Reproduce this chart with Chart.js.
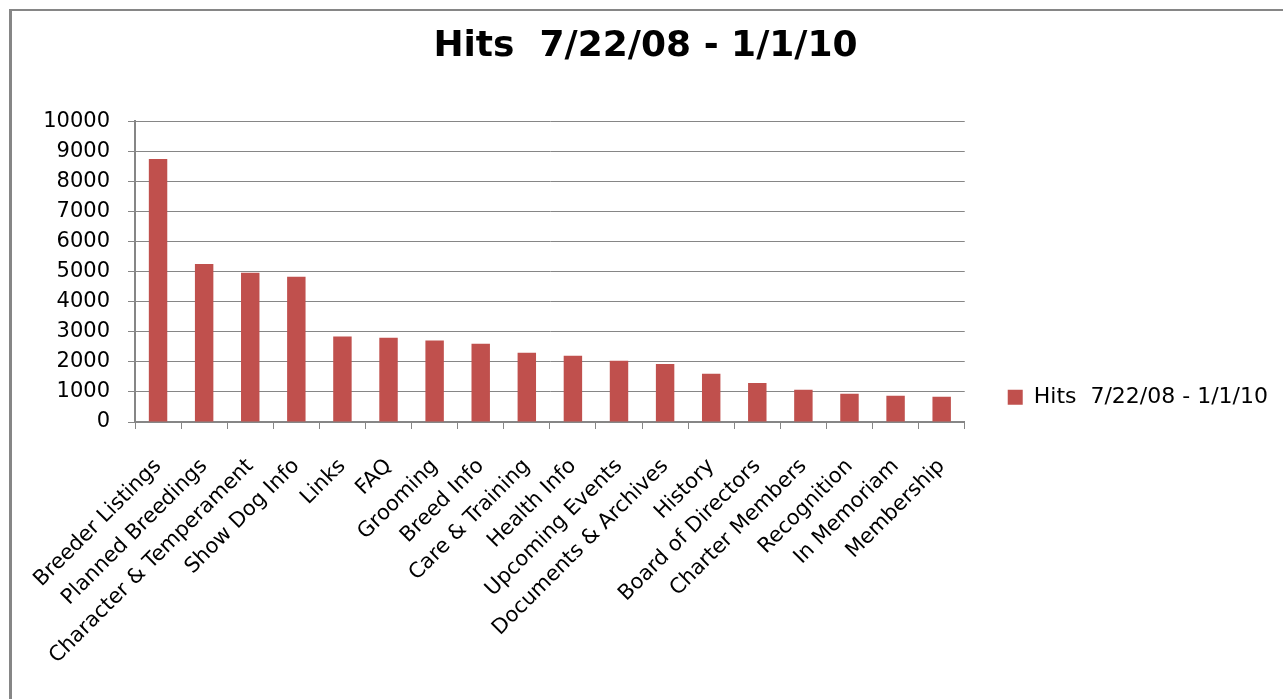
<!DOCTYPE html>
<html>
<head>
<meta charset="utf-8">
<title>Hits 7/22/08 - 1/1/10</title>
<script src="https://cdn.jsdelivr.net/npm/chart.js@4.4.1/dist/chart.umd.min.js"></script>
<style>
  html, body { margin: 0; padding: 0; background: #fff; overflow: hidden; }
  #wrap { position: relative; width: 1283px; height: 699px; }
  #frame {
    position: absolute; left: 9px; top: 9px; width: 1400px; height: 800px;
    border-left: 3px solid #868686; border-top: 2px solid #868686;
    pointer-events: none;
  }
</style>
</head>
<body>
<div id="wrap">
  <canvas id="chart"></canvas>
  <div id="frame"></div>
</div>
<script>
const categories = [
  "Breeder Listings", "Planned Breedings", "Character & Temperament", "Show Dog Info",
  "Links", "FAQ", "Grooming", "Breed Info", "Care & Training", "Health Info",
  "Upcoming Events", "Documents & Archives", "History", "Board of Directors",
  "Charter Members", "Recognition", "In Memoriam", "Membership",
];
const hits = [
  8740, 5250, 4960, 4830, 2840, 2800, 2710, 2600, 2300, 2200,
  2040, 1930, 1600, 1300, 1070, 940, 870, 840,
];
const seriesLabel = "Hits  7/22/08 - 1/1/10";
const titleText = "Hits  7/22/08 - 1/1/10";

const axisGray = "#868686";
const font = "'DejaVu Sans', sans-serif";
const padLeft = 13;

const config = {
  type: "bar",
  data: {
    labels: categories,
    datasets: [
      {
        label: seriesLabel,
        data: hits,
        backgroundColor: "#C0504D",
        borderWidth: 0,
        barPercentage: 0.4,
        categoryPercentage: 1.0,
      },
    ],
  },
  options: {
    responsive: true,
    maintainAspectRatio: false,
    animation: false,
    layout: { padding: { left: padLeft, top: 0, right: 5, bottom: 27 } },
    plugins: {
      title: {
        display: true,
        text: titleText,
        color: "#000",
        font: { family: font, size: 36, weight: "bold", lineHeight: 1.2 },
        padding: { top: 25, bottom: 53 },
      },
      legend: {
        display: true,
        position: "right",
        align: "center",
        // empty legend title only pushes the entry down, like excel centres it under the chart title
        title: {
          display: true,
          text: "",
          font: { family: font, size: 12, lineHeight: 1.2 },
          padding: { top: 0, bottom: 108 },
        },
        labels: {
          color: "#000",
          font: { family: font, size: 22 },
          boxWidth: 15,
          boxHeight: 15,
          padding: 43,
        },
      },
      tooltip: { enabled: false },
    },
    scales: {
      x: {
        grid: {
          display: true,
          drawOnChartArea: false,
          drawTicks: true,
          tickLength: 7,
          color: axisGray,
          offset: true,
        },
        border: { display: true, color: axisGray, width: 2 },
        ticks: {
          color: "#000",
          font: { family: font, size: 21 },
          autoSkip: false,
          minRotation: 45,
          maxRotation: 45,
          padding: 25,
        },
        afterFit: (scale) => {
          scale.height = 250;
        },
      },
      y: {
        min: 0,
        max: 10000,
        grid: {
          color: axisGray,
          lineWidth: 1,
          drawTicks: true,
          tickLength: 7,
        },
        border: { display: true, color: axisGray, width: 2 },
        ticks: {
          stepSize: 1000,
          color: "#000",
          font: { family: font, size: 21 },
          padding: 18,
          callback: (value) => String(value),
        },
        afterFit: (scale) => {
          scale.width = 135 - padLeft;
        },
      },
    },
  },
};

const chart = new Chart(document.getElementById("chart"), config);
</script>
</body>
</html>
